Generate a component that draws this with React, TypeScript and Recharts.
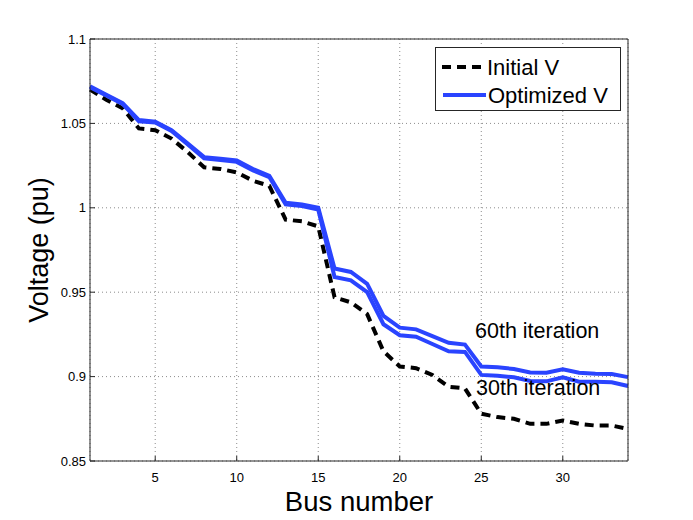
import React from "react";
import { LineChart, Line, XAxis, YAxis, CartesianGrid, Label } from "recharts";

const busNumbers = [
  1, 2, 3, 4, 5, 6, 7, 8, 9, 10, 11, 12, 13, 14, 15, 16, 17,
  18, 19, 20, 21, 22, 23, 24, 25, 26, 27, 28, 29, 30, 31, 32, 33, 34,
];
const initialV = [
  1.07, 1.064, 1.059, 1.047, 1.046, 1.041, 1.033, 1.024, 1.023, 1.021, 1.016, 1.013,
  0.993, 0.992, 0.989, 0.947, 0.944, 0.937, 0.915, 0.906, 0.905, 0.901, 0.894, 0.893,
  0.878, 0.876, 0.875, 0.872, 0.872, 0.874, 0.872, 0.871, 0.871, 0.869,
];
const optimized60 = [
  1.072, 1.067, 1.062, 1.052, 1.051, 1.046, 1.038, 1.03, 1.029, 1.028, 1.023, 1.019,
  1.003, 1.002, 1.0, 0.964, 0.962, 0.955, 0.936, 0.929, 0.928, 0.924, 0.92, 0.919,
  0.906, 0.9055, 0.9045, 0.9025, 0.9023, 0.9043, 0.9023, 0.9017, 0.9015, 0.8997,
];
const optimized30 = [
  1.0715, 1.0665, 1.0615, 1.0512, 1.0505, 1.0455, 1.0375, 1.0293, 1.0283, 1.0272, 1.0222, 1.0182,
  1.002, 1.001, 0.999, 0.959, 0.957, 0.95, 0.931, 0.9245, 0.9236, 0.9193, 0.915, 0.9146,
  0.901, 0.9005, 0.8996, 0.8974, 0.8972, 0.8996, 0.897, 0.897, 0.8966, 0.8944,
];
const xTicks = [5, 10, 15, 20, 25, 30];
const yTicks = [0.85, 0.9, 0.95, 1, 1.05, 1.1];
const yTickLabels = ["0.85", "0.9", "0.95", "1", "1.05", "1.1"];
const legendLabels = ["Initial V", "Optimized V"];
const iterationNotes = ["60th iteration", "30th iteration"];

const data = busNumbers.map((bus, i) => ({
  bus,
  initial: initialV[i],
  opt60: optimized60[i],
  opt30: optimized30[i],
}));

const FONT = '"Liberation Sans", Arial, Helvetica, sans-serif';
const BLUE = "#2a44ff";
const INK = "#262626";

// legend drawn as a plain overlay so recharts does not reserve room for it
function LegendBox() {
  return (
    <svg width={187} height={65} style={{ position: "absolute", left: 435, top: 47 }}>
      <rect x={0.5} y={0.5} width={185} height={63} fill="#fff" stroke={INK} strokeWidth={1} />
      <line x1={7} y1={20} x2={48} y2={20} stroke="#000" strokeWidth={4} strokeDasharray="9 6" />
      <text x={52} y={28} fontSize={22} fontFamily={FONT} fill="#000">
        {legendLabels[0]}
      </text>
      <line x1={8} y1={48} x2={51} y2={48} stroke={BLUE} strokeWidth={4} />
      <text x={53} y={56} fontSize={22} fontFamily={FONT} fill="#000">
        {legendLabels[1]}
      </text>
    </svg>
  );
}

export default function App() {
  return (
    <div style={{ position: "absolute", left: 0, top: 0, width: 693, height: 520, background: "#fff", fontFamily: FONT }}>
      <LineChart width={693} height={520} data={data} margin={{ top: 38, right: 64, bottom: 0, left: 0 }}>
        <CartesianGrid stroke="#8c8c8c" strokeDasharray="1 3" strokeWidth={1} />
        <XAxis
          dataKey="bus"
          type="number"
          domain={[1, 34]}
          ticks={xTicks}
          interval={0}
          height={59}
          tickSize={-5}
          tickMargin={17}
          stroke={INK}
          tick={{ fill: "#000", fontSize: 13, fontFamily: FONT }}
        >
          <Label
            content={() => (
              <text x={359} y={511} textAnchor="middle" fontSize={27.5} fontFamily={FONT} fill="#000">
                Bus number
              </text>
            )}
          />
        </XAxis>
        <XAxis
          xAxisId="top"
          orientation="top"
          dataKey="bus"
          type="number"
          domain={[1, 34]}
          ticks={xTicks}
          interval={0}
          height={1}
          tickSize={-5}
          tick={false}
          stroke={INK}
        />
        <YAxis
          type="number"
          domain={[0.85, 1.1]}
          ticks={yTicks}
          interval={0}
          width={90}
          tickSize={-5}
          tickMargin={9}
          stroke={INK}
          tick={{ fill: "#000", fontSize: 13, fontFamily: FONT }}
          tickFormatter={(v: number) => yTickLabels[yTicks.indexOf(v)] ?? String(v)}
        >
          <Label
            content={() => (
              <text
                x={48}
                y={250}
                transform="rotate(-90 48 250)"
                textAnchor="middle"
                fontSize={27}
                fontFamily={FONT}
                fill="#000"
              >
                Voltage (pu)
              </text>
            )}
          />
        </YAxis>
        <YAxis
          yAxisId="right"
          orientation="right"
          type="number"
          domain={[0.85, 1.1]}
          ticks={yTicks}
          interval={0}
          width={1}
          tickSize={-5}
          tick={false}
          stroke={INK}
        />
        <Line
          dataKey="initial"
          stroke="#000"
          strokeWidth={4}
          strokeDasharray="9 6"
          dot={false}
          isAnimationActive={false}
        />
        <Line dataKey="opt30" stroke={BLUE} strokeWidth={4} dot={false} isAnimationActive={false} />
        <Line dataKey="opt60" stroke={BLUE} strokeWidth={4} dot={false} isAnimationActive={false} />
      </LineChart>
      <LegendBox />
      <div style={{ position: "absolute", left: 475, top: 319, fontSize: 21.5, lineHeight: "24px", color: "#000" }}>
        {iterationNotes[0]}
      </div>
      <div style={{ position: "absolute", left: 476, top: 376, fontSize: 21.5, lineHeight: "24px", color: "#000" }}>
        {iterationNotes[1]}
      </div>
    </div>
  );
}
